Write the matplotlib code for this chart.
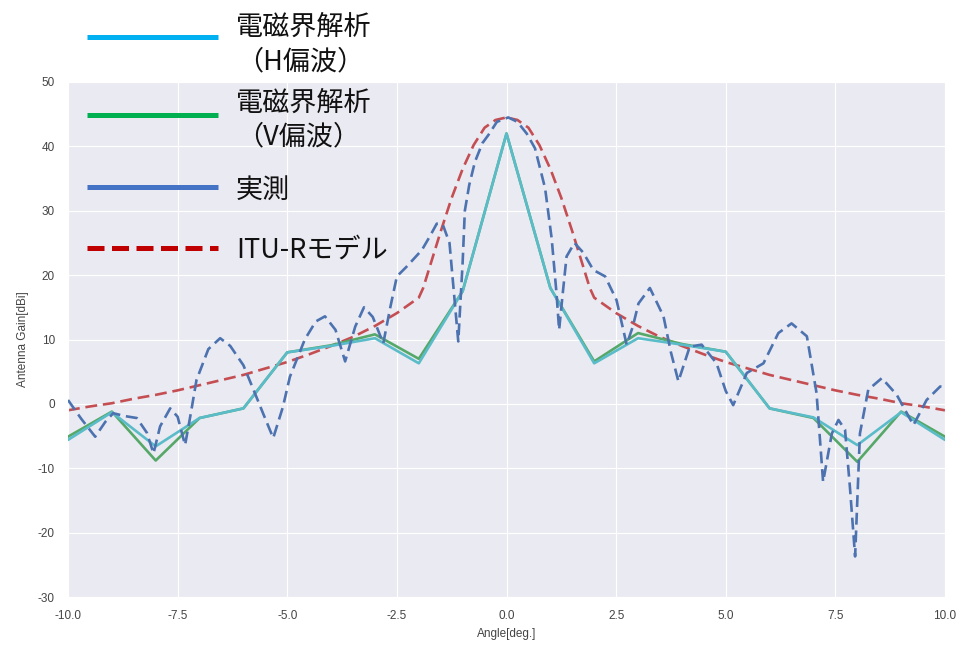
import matplotlib
matplotlib.use("Agg")
import matplotlib.pyplot as plt
import seaborn as sns
from matplotlib.lines import Line2D

# ---------------- data ----------------
angles_sim = [-10, -9, -8, -7, -6, -5, -4, -3, -2, -1, 0, 1, 2, 3, 4, 5, 6, 7, 8, 9, 10]
gain_h = [-5.6, -1.3, -6.6, -2.2, -0.7, 8.0, 9.0, 10.2, 6.3, 17.5, 42.0, 18.0, 6.3, 10.2, 9.2, 8.1, -0.7, -2.1, -6.4, -1.3, -5.6]
gain_v = [-5.1, -1.2, -8.8, -2.2, -0.7, 8.0, 9.1, 10.8, 7.0, 17.5, 42.0, 18.0, 6.6, 11.0, 9.3, 8.1, -0.7, -2.2, -9.0, -1.2, -5.1]

meas_x = [-10.0, -9.7, -9.38, -9.15, -8.97, -8.7, -8.43, -8.2, -8.05, -7.9, -7.67, -7.5,
          -7.33, -7.2, -7.07, -6.8, -6.53, -6.3, -6.0, -5.77, -5.55, -5.32, -5.1, -4.94,
          -4.6, -4.35, -4.14, -3.9, -3.68, -3.45, -3.25, -3.05, -2.81, -2.65, -2.5, -2.28,
          -1.93, -1.75, -1.59, -1.45, -1.3, -1.1, -1.0, -0.95, -0.85, -0.72, -0.55, -0.41,
          -0.22, 0.04, 0.25, 0.46, 0.65, 0.88, 1.03, 1.14, 1.2, 1.28, 1.37, 1.55, 1.75,
          1.98, 2.25, 2.51, 2.74, 2.88, 3.01, 3.27, 3.58, 3.75, 3.92, 4.18, 4.45, 4.79,
          5.0, 5.17, 5.48, 5.86, 6.2, 6.5, 6.85, 7.07, 7.22, 7.42, 7.57, 7.72, 7.83, 7.95,
          8.06, 8.25, 8.56, 8.9, 9.28, 9.58, 9.89, 10.0]
meas_y = [0.6, -2.3, -5.1, -2.8, -1.45, -1.9, -2.2, -4.5, -7.7, -3.5, -0.7, -2.0,
          -6.4, -1.5, 3.7, 8.5, 10.2, 9.0, 6.0, 2.2, -1.5, -5.3, -0.5, 4.2,
          10.0, 12.8, 13.6, 11.5, 6.6, 12.0, 15.0, 13.5, 9.4, 15.0, 19.8, 21.3,
          23.9, 26.0, 28.0, 27.8, 25.0, 9.7, 22.0, 30.0, 34.0, 37.6, 40.5, 41.8,
          43.8, 44.5, 43.8, 42.0, 39.7, 33.5, 25.7, 17.2, 11.5, 17.0, 22.9, 25.0, 23.5,
          20.8, 19.8, 16.1, 9.2, 12.0, 15.6, 18.0, 13.6, 8.0, 3.5, 8.9, 9.2, 6.3,
          2.0, -0.2, 4.8, 6.3, 11.0, 12.5, 10.5, 1.7, -12.1, -4.6, -2.5, -4.0, -12.8, -23.7,
          -4.6, 2.2, 4.0, 1.4, -3.3, 0.6, 2.7, 2.6]

itu_x = [-10, -9.5, -9, -8.5, -8, -7.5, -7, -6.5, -6, -5.5, -5, -4.5, -4, -3.5, -3, -2.5,
         -2.0, -1.9, -1.75, -1.5, -1.25, -1.0, -0.75, -0.5, -0.25, 0,
         0.25, 0.5, 0.75, 1.0, 1.25, 1.5, 1.75, 1.9, 2.0,
         2.5, 3, 3.5, 4, 4.5, 5, 5.5, 6, 6.5, 7, 7.5, 8, 8.5, 9, 9.5, 10]
itu_y = [-1.0, -0.4, 0.1, 0.8, 1.4, 2.1, 2.9, 3.7, 4.5, 5.5, 6.5, 7.7, 9.0, 10.4, 12.1, 14.1,
         16.5, 18.0, 21.3, 26.8, 32.0, 36.5, 40.2, 42.9, 44.1, 44.5,
         44.1, 42.9, 40.2, 36.5, 32.0, 26.8, 21.3, 18.0, 16.5,
         14.1, 12.1, 10.4, 9.0, 7.7, 6.5, 5.5, 4.5, 3.7, 2.9, 2.1, 1.4, 0.8, 0.1, -0.4, -1.0]

legend_labels = ["電磁界解析", "（H偏波）", "電磁界解析", "（V偏波）", "実測", "ITU-Rモデル"]
x_ticks = [-10.0, -7.5, -5.0, -2.5, 0.0, 2.5, 5.0, 7.5, 10.0]
y_ticks = [-30, -20, -10, 0, 10, 20, 30, 40, 50]

# ---------------- style ----------------
sns.set_style("darkgrid")
plt.rcParams['font.family'] = ['Liberation Sans', 'Noto Sans CJK JP', 'DejaVu Sans']
plt.rcParams['axes.unicode_minus'] = False

fig = plt.figure(figsize=(9.63, 6.48), dpi=100)
ax = fig.add_axes([68 / 963, 1 - 597 / 648, (945 - 68) / 963, (597 - 82) / 648])

c_h = "#5ABCC9"
c_v = "#55A868"
c_m = "#4C72B0"
c_r = "#C44E52"

ax.plot(angles_sim, gain_v, color=c_v, lw=1.9, zorder=3)
ax.plot(angles_sim, gain_h, color=c_h, lw=1.9, zorder=4)
ax.plot(meas_x, meas_y, color=c_m, lw=1.9, ls=(0, (4.5, 2.2)), zorder=5)
ax.plot(itu_x, itu_y, color=c_r, lw=1.9, ls=(0, (4.5, 2.2)), zorder=2)

ax.set_xlim(-10, 10)
ax.set_ylim(-30, 50)
ax.set_xticks(x_ticks)
ax.set_xticklabels([f"{v:.1f}" for v in x_ticks])
ax.set_yticks(y_ticks)
ax.tick_params(labelsize=8.5, colors="#444444", pad=6)
ax.set_xlabel("Angle[deg.]", fontsize=8.5, color="#444444", labelpad=4)
ax.set_ylabel("Antenna Gain[dBi]", fontsize=8.5, color="#444444", labelpad=6)

# ---------------- legend (drawn in figure coords) ----------------
leg_handles = [
    ("#00B0F0", "-", 37),
    ("#00B050", "-", 115),
    ("#4472C4", "-", 187),
    ("#C00000", (0, (3.4, 1.5)), 248),
]
for col, ls, ypix in leg_handles:
    fig.add_artist(Line2D([87 / 963, 218 / 963], [1 - ypix / 648] * 2,
                          color=col, lw=3.6, ls=ls, transform=fig.transFigure,
                          solid_capstyle='butt', dash_capstyle='butt'))

text_pos = [27, 62, 103, 137, 190, 250]
jp = ['Noto Sans CJK JP', 'DejaVu Sans']
for lab, ypix in zip(legend_labels, text_pos):
    fig.text(236 / 963, 1 - ypix / 648, lab, fontsize=19.5, family=jp,
             color="#111111", va="center", ha="left")

fig.savefig("out.png", dpi=100)
